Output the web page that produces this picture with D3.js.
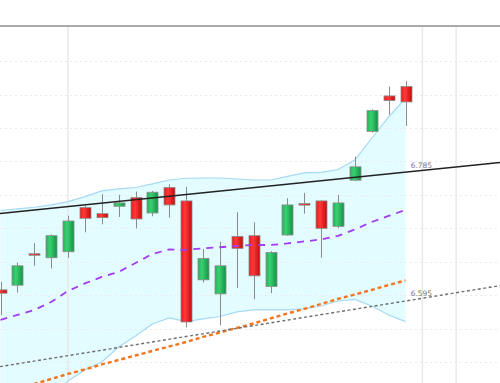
<!DOCTYPE html>
<html>
<head>
<meta charset="utf-8">
<script src="https://cdn.jsdelivr.net/npm/d3@7/dist/d3.min.js"></script>
<style>
html,body{margin:0;padding:0;background:#fff;}
svg{display:block;}
</style>
</head>
<body>
<svg id="chart" width="500" height="383"></svg>
<script>
// ---- data ----
const bars = d3.range(25);
const open  = [6.608,6.615,6.662,6.656,6.665,6.731,6.722,6.733,6.746,6.723,6.761,6.741,6.623,6.602,6.688,6.689,6.613,6.690,6.737,6.741,6.703,6.772,6.845,6.898,6.912];
const high  = [6.620,6.649,6.678,6.691,6.719,6.734,6.751,6.750,6.755,6.756,6.766,6.762,6.669,6.680,6.724,6.709,6.666,6.745,6.753,6.742,6.750,6.807,6.878,6.912,6.920];
const low   = [6.570,6.604,6.644,6.640,6.656,6.694,6.706,6.717,6.700,6.718,6.716,6.552,6.619,6.555,6.611,6.594,6.603,6.689,6.722,6.656,6.700,6.771,6.843,6.870,6.853];
const close = [6.603,6.644,6.660,6.689,6.711,6.715,6.716,6.738,6.714,6.754,6.735,6.560,6.655,6.644,6.670,6.629,6.664,6.735,6.735,6.700,6.738,6.792,6.876,6.891,6.889];

const bbUpper = [6.7267,6.7290,6.7315,6.7350,6.7399,6.7474,6.7559,6.7589,6.7611,6.7664,6.7723,6.7749,6.7753,6.7753,6.7738,6.7723,6.7723,6.7776,6.7828,6.7836,6.7880,6.8022,6.8347,6.8665,6.8942];
const bbMiddle = [6.5630,6.5705,6.5780,6.5899,6.6064,6.6176,6.6273,6.6348,6.6482,6.6617,6.6684,6.6677,6.6702,6.6717,6.6737,6.6751,6.6751,6.6774,6.6804,6.6834,6.6886,6.6983,6.7095,6.7185,6.7275];
const bbLower = [6.4000,6.4120,6.4240,6.4449,6.4718,6.4882,6.5002,6.5226,6.5391,6.5570,6.5660,6.5605,6.5645,6.5682,6.5750,6.5780,6.5780,6.5780,6.5795,6.5839,6.5914,6.5937,6.5839,6.5705,6.5605];
const maSlow = [6.4509,6.4598,6.4673,6.4748,6.4823,6.4890,6.4965,6.5032,6.5099,6.5167,6.5234,6.5301,6.5376,6.5443,6.5510,6.5578,6.5653,6.5727,6.5795,6.5869,6.5944,6.6011,6.6079,6.6153,6.6221];

// trend lines: two anchor points (bar index, price)
const trendUpper = [[0, 6.7223], [24, 6.7839]];
const trendLower = [[0, 6.4933], [24, 6.5914]];
const trendLabels = ["6.785", "6.595"];
const labelBar = 25;

const yTicks = [6.50,6.55,6.60,6.65,6.70,6.75,6.80,6.85,6.90,6.95];
const vGridBars = [4, 25, 27];

// ---- scales ----
const W = 500, H = 383, plotTop = 26;
const x = d3.scaleLinear().domain([0, 24]).range([0.5, 405.5]);
const y = d3.scaleLinear().domain([6.5, 7.0]).range([362.1, 27.7]);
const xMinBar = x.invert(0), xMaxBar = x.invert(W);

const svg = d3.select("#chart");
const defs = svg.append("defs");
defs.append("clipPath").attr("id","plot").append("rect")
  .attr("x",0).attr("y",plotTop).attr("width",W).attr("height",H-plotTop);

function grad(id, stops){
  const gr = defs.append("linearGradient").attr("id",id).attr("x1","0%").attr("x2","100%").attr("y1","0%").attr("y2","0%");
  stops.forEach(s=>gr.append("stop").attr("offset",s[0]).attr("stop-color",s[1]));
}
grad("gUp",[["0%","#1fb457"],["35%","#3ccf72"],["100%","#119444"]]);
grad("gDn",[["0%","#e81818"],["35%","#ff3a3a"],["100%","#c40a0a"]]);

const g = svg.append("g").attr("clip-path","url(#plot)");

// band fill
const area = d3.area()
  .x(i => x(i)).y0(i => y(bbLower[i])).y1(i => y(bbUpper[i]));
g.append("path").datum(bars).attr("d", area).attr("fill","#e2fcff");

// grid
g.selectAll(".hg").data(yTicks).join("line")
  .attr("x1",0).attr("x2",W).attr("y1",d=>Math.round(y(d))+0.5).attr("y2",d=>Math.round(y(d))+0.5)
  .attr("stroke","#ebebeb").attr("stroke-width",1).attr("stroke-dasharray","2,3");
g.selectAll(".vg").data(vGridBars).join("line")
  .attr("x1",d=>x(d)).attr("x2",d=>x(d)).attr("y1",plotTop).attr("y2",H)
  .attr("stroke","#e8e8e8").attr("stroke-width",1.5);

// band lines
const line = arr => d3.line().x(i => x(i)).y(i => y(arr[i]));
g.append("path").datum(bars).attr("d", line(bbUpper)).attr("fill","none").attr("stroke","#a6d9f5").attr("stroke-width",1.2);
g.append("path").datum(bars).attr("d", line(bbLower)).attr("fill","none").attr("stroke","#a6d9f5").attr("stroke-width",1.2);

// candles
const bw = 11;
const c = g.selectAll(".c").data(bars).join("g");
c.append("line")
  .attr("x1",i=>Math.round(x(i))+0.5).attr("x2",i=>Math.round(x(i))+0.5)
  .attr("y1",i=>y(high[i])).attr("y2",i=>y(low[i]))
  .attr("stroke","#8a8a8a").attr("stroke-width",1);
c.append("rect")
  .attr("x",i=>Math.round(x(i)) - bw/2 + 0.5)
  .attr("y",i=>y(Math.max(open[i],close[i])))
  .attr("width",bw)
  .attr("height",i=>Math.max(1.5, Math.abs(y(open[i])-y(close[i]))))
  .attr("fill",i=> close[i] >= open[i] ? "url(#gUp)" : "url(#gDn)")
  .attr("stroke","#8c8c8c").attr("stroke-width",0.8);

// moving averages
g.append("path").datum(bars).attr("d", line(maSlow)).attr("fill","none")
  .attr("stroke","#f5741c").attr("stroke-width",2.4).attr("stroke-dasharray","4,3");
g.append("path").datum(bars).attr("d", line(bbMiddle)).attr("fill","none")
  .attr("stroke","#a13cf0").attr("stroke-width",1.8).attr("stroke-dasharray","7,6");

// trend lines
function tl(pts){
  const [[i0,p0],[i1,p1]] = pts;
  const s = (p1-p0)/(i1-i0);
  return { at: i => p0 + s*(i-i0) };
}
const tU = tl(trendUpper), tL = tl(trendLower);
g.append("line").attr("x1",x(xMinBar)).attr("x2",x(xMaxBar))
  .attr("y1",y(tU.at(xMinBar))).attr("y2",y(tU.at(xMaxBar)))
  .attr("stroke","#222").attr("stroke-width",1.5);
g.append("line").attr("x1",x(xMinBar)).attr("x2",x(xMaxBar))
  .attr("y1",y(tL.at(xMinBar))).attr("y2",y(tL.at(xMaxBar)))
  .attr("stroke","#6e6e6e").attr("stroke-width",1.4).attr("stroke-dasharray","3,2.5");

// labels
[tU, tL].forEach((t,k)=>{
  svg.append("text").attr("x",x(labelBar)-1).attr("y",y(t.at(labelBar))-2.5)
    .attr("text-anchor","middle").attr("font-family","DejaVu Sans, sans-serif")
    .attr("font-size",7.5).attr("fill","#777").text(trendLabels[k]);
});

// top border
svg.append("line").attr("x1",0).attr("x2",W).attr("y1",plotTop).attr("y2",plotTop)
  .attr("stroke","#aaaaaa").attr("stroke-width",2);
</script>
</body>
</html>
